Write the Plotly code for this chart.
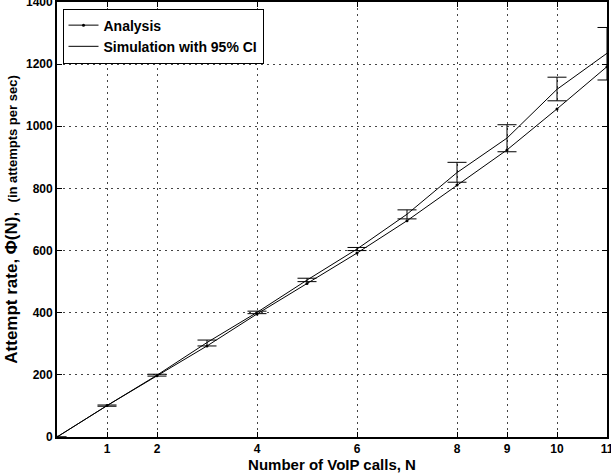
import plotly.graph_objects as go

N = [0, 1, 2, 3, 4, 5, 6, 7, 8, 9, 10, 11]
analysis = [0, 101, 197, 293, 396, 494, 592, 696, 811, 924, 1056, 1192]
sim_mean = [0, 101, 199, 304, 401, 505, 605, 717, 851, 962, 1119, 1235]
sim_upper = [None, 103, 202, 312, 405, 511, 610, 731, 884, 1005, 1158, 1318]
sim_lower = [None, 99, 196, 293, 397, 500, 600, 702, 820, 918, 1082, 1149]

x_ticks = [1, 2, 4, 6, 8, 9, 10, 11]
y_ticks = [0, 200, 400, 600, 800, 1000, 1200, 1400]

err_plus = [None if u is None else u - m for u, m in zip(sim_upper, sim_mean)]
err_minus = [None if l is None else m - l for l, m in zip(sim_lower, sim_mean)]

font = "Liberation Sans, Arial, Helvetica, sans-serif"

fig = go.Figure()
fig.add_trace(go.Scatter(
    x=N, y=analysis, mode="lines+markers", name="<b>Analysis</b>",
    line=dict(color="black", width=1),
    marker=dict(color="black", size=3, symbol="circle"),
))
fig.add_trace(go.Scatter(
    x=N, y=sim_mean, mode="lines", name="<b>Simulation with 95% CI</b>",
    line=dict(color="black", width=1),
    error_y=dict(type="data", symmetric=False, array=err_plus, arrayminus=err_minus,
                 color="black", thickness=1, width=9.5),
))

axis_common = dict(
    showline=True, linecolor="black", linewidth=1.8, mirror="allticks",
    ticks="inside", ticklen=5, tickcolor="black", tickwidth=1,
    showgrid=True, gridcolor="#444", griddash="1.5px,4.5px", gridwidth=1,
    zeroline=False, ticklabeloverflow="allow", automargin=False,
    tickfont=dict(family=font, size=12, color="black", weight="bold"),
)

fig.update_xaxes(
    range=[0, 11], tickvals=x_ticks, ticktext=[str(v) for v in x_ticks],
    title=dict(text="<b>Number of VoIP calls, N</b>", standoff=0,
               font=dict(family=font, size=15, color="black")),
    **axis_common,
)
fig.update_yaxes(
    range=[0, 1400], tickvals=y_ticks,
    title=dict(text="<b>Attempt rate, \u03a6(N),  <span style='font-size:13px'>(in attempts per sec)</span></b>",
               standoff=4, font=dict(family=font, size=17, color="black")),
    **axis_common,
)

fig.update_layout(
    width=611, height=475,
    margin=dict(l=57, r=4, t=2, b=38, autoexpand=False),
    plot_bgcolor="white", paper_bgcolor="white",
    showlegend=True,
    legend=dict(x=0.01, y=0.985, xanchor="left", yanchor="top",
                bgcolor="white", bordercolor="black", borderwidth=1,
                font=dict(family=font, size=14, color="black"),
                itemwidth=30, tracegroupgap=0),
)

fig.write_html("out.html")
